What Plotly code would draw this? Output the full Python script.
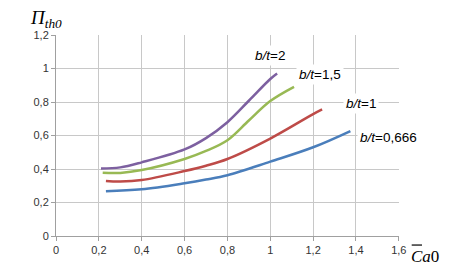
import plotly.graph_objects as go

# Data
x_066 = [0.233, 0.4, 0.6, 0.7, 0.8, 1.0, 1.2, 1.374]
y_066 = [0.267, 0.279, 0.315, 0.337, 0.363, 0.444, 0.530, 0.627]

x_1 = [0.233, 0.3, 0.4, 0.6, 0.7, 0.8, 1.0, 1.2, 1.242]
y_1 = [0.328, 0.325, 0.334, 0.388, 0.420, 0.460, 0.582, 0.728, 0.756]

x_15 = [0.218, 0.3, 0.4, 0.6, 0.7, 0.8, 0.9, 1.0, 1.111]
y_15 = [0.378, 0.377, 0.394, 0.460, 0.508, 0.572, 0.690, 0.806, 0.891]

x_2 = [0.21, 0.3, 0.4, 0.6, 0.7, 0.8, 0.9, 1.0, 1.032]
y_2 = [0.404, 0.410, 0.440, 0.517, 0.585, 0.680, 0.808, 0.938, 0.971]

series_names = ["b/t=0,666", "b/t=1", "b/t=1,5", "b/t=2"]
series_colors = ["#4a7ebb", "#be4b48", "#98b954", "#7d60a0"]
label_pos = [(1.552, 0.591), (1.422, 0.794), (1.231, 0.967), (0.998, 1.08)]
label_text = ["<i>b/t</i>=0,666", "<i>b/t</i>=1", "<i>b/t</i>=1,5", "<i>b/t</i>=2"]

xticks = [0, 0.2, 0.4, 0.6, 0.8, 1.0, 1.2, 1.4, 1.6]
xtick_text = ["0", "0,2", "0,4", "0,6", "0,8", "1", "1,2", "1,4", "1,6"]
yticks = [0, 0.2, 0.4, 0.6, 0.8, 1.0, 1.2]
ytick_text = ["0", "0,2", "0,4", "0,6", "0,8", "1", "1,2"]

fig = go.Figure()
for xs, ys, name, col in zip([x_066, x_1, x_15, x_2], [y_066, y_1, y_15, y_2],
                             series_names, series_colors):
    fig.add_trace(go.Scatter(x=xs, y=ys, mode="lines", name=name,
                             line=dict(color=col, width=2.5, shape="spline", smoothing=1.0)))

for (lx, ly), t in zip(label_pos, label_text):
    fig.add_annotation(x=lx, y=ly, xref="x", yref="y", text=t, showarrow=False,
                       bgcolor="white", font=dict(family="Liberation Sans", size=13.5, color="black"),
                       borderpad=2)

# axis titles
fig.add_annotation(xref="paper", yref="paper", x=-0.082, y=1.01, yanchor="bottom", xanchor="left",
                   text="<i>Π</i><sub><i>th0</i></sub>", showarrow=False,
                   font=dict(family="Liberation Serif", size=19, color="black"))
fig.add_annotation(xref="paper", yref="paper", x=1.03, y=-0.1, xanchor="left", yanchor="middle",
                   text="<i>C</i><i>a</i>0", showarrow=False,
                   font=dict(family="Liberation Serif", size=17, color="black"))
fig.add_shape(type="line", xref="paper", yref="paper", x0=1.037, x1=1.067, y0=-0.045, y1=-0.045,
              line=dict(color="black", width=1.2))

axis_common = dict(showgrid=True, gridcolor="#c8c8c8", gridwidth=1, zeroline=False,
                   showline=True, linecolor="#a0a0a0", linewidth=1,
                   ticks="outside", ticklen=4, tickcolor="#a0a0a0",
                   tickfont=dict(family="Liberation Sans", size=11, color="#333333"))
fig.update_xaxes(range=[0, 1.6008], tickvals=xticks, ticktext=xtick_text, **axis_common)
fig.update_yaxes(range=[0, 1.2008], tickvals=yticks, ticktext=ytick_text, **axis_common)

# page body has an 8px margin, so the figure is sized to the visible area
fig.update_layout(width=449, height=265, margin=dict(l=48, r=58, t=27, b=37),
                  paper_bgcolor="white", plot_bgcolor="white", showlegend=False)
fig.write_html("out.html")
